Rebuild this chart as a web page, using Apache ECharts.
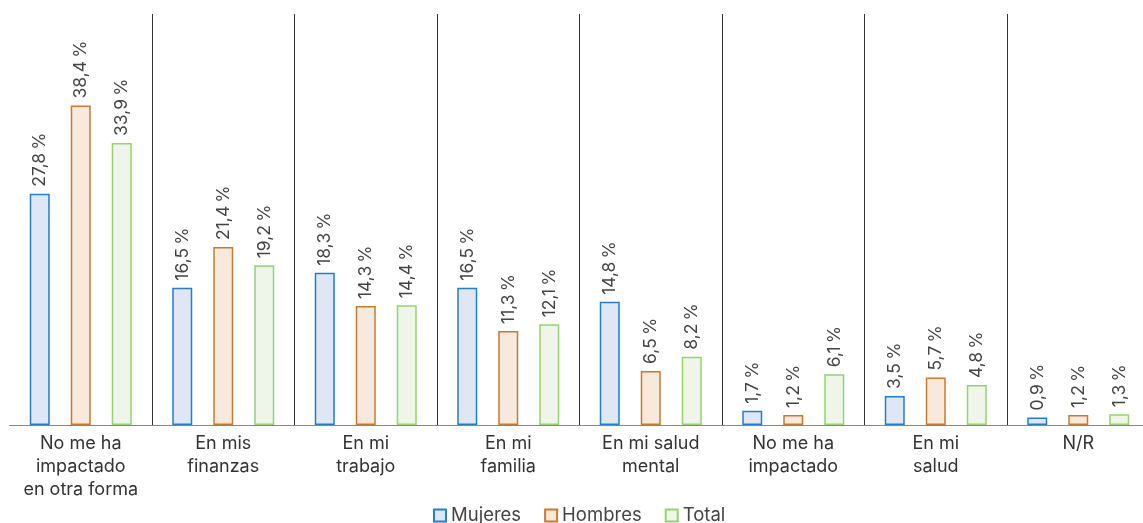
<!DOCTYPE html>
<html><head><meta charset="utf-8">
<script src="https://cdn.jsdelivr.net/npm/echarts@6/dist/echarts.min.js"></script>
<style>html,body{margin:0;padding:0;background:#fff}#c{width:1143px;height:523px}</style>
</head><body><div id="c"></div>
<script>
const categories = ['No me ha\nimpactado\nen otra forma','En mis\nfinanzas','En mi\ntrabajo','En mi\nfamilia','En mi salud\nmental','No me ha\nimpactado','En mi\nsalud','N/R'];
const mujeres = [27.8, 16.5, 18.3, 16.5, 14.8, 1.7, 3.5, 0.9];
const hombres = [38.4, 21.4, 14.3, 11.3, 6.5, 1.2, 5.7, 1.2];
const total = [33.9, 19.2, 14.4, 12.1, 8.2, 6.1, 4.8, 1.3];
const seriesNames = ['Mujeres','Hombres','Total'];

const styles = [
  {border:'#1f7fd0', fill:'#dfe7f4'},
  {border:'#c97a2f', fill:'#f8e9dd'},
  {border:'#93d46e', fill:'#eff6e9'}
];
const font = 'Inter, "Noto Sans", sans-serif';
const fmt = p => p.value.toFixed(1).replace('.', ',') + '\u202F%';

const chart = echarts.init(document.getElementById('c'), null, {renderer:'canvas'});
chart.setOption({
  animation:false,
  textStyle:{fontFamily:font},
  legend:{
    top:501, left:428, itemWidth:12, itemHeight:12, itemGap:23,
    textStyle:{fontSize:18.5, color:'#444', fontFamily:font},
    data: seriesNames.map((n,i)=>({name:n, icon:'rect', itemStyle:{color:styles[i].fill, borderColor:styles[i].border, borderWidth:2}}))
  },
  grid:{left:9.5, width:1140, top:14, bottom:98, containLabel:false, outerBoundsMode:'none'},
  xAxis:{
    type:'category', data:categories,
    axisLine:{lineStyle:{color:'#888', width:1}},
    axisTick:{show:false},
    splitLine:{show:true, interval:(i)=> i!==0, lineStyle:{color:'#333', width:1}},
    axisLabel:{fontSize:18, color:'#333', lineHeight:23, margin:7, fontFamily:font, interval:0}
  },
  yAxis:{type:'value', min:0, max:49.4, show:false, splitLine:{show:false}},
  series:[mujeres,hombres,total].map((d,i)=>({
    name:seriesNames[i], type:'bar', data:d, barWidth:20, barGap:'105%',
    itemStyle:{color:styles[i].fill, borderColor:styles[i].border, borderWidth:1.5},
    label:{show:true, position:'top', rotate:90, align:'left', verticalAlign:'middle', distance:7,
      formatter:fmt, fontSize:17.5, color:'#444', fontFamily:font}
  }))
});
</script></body></html>
